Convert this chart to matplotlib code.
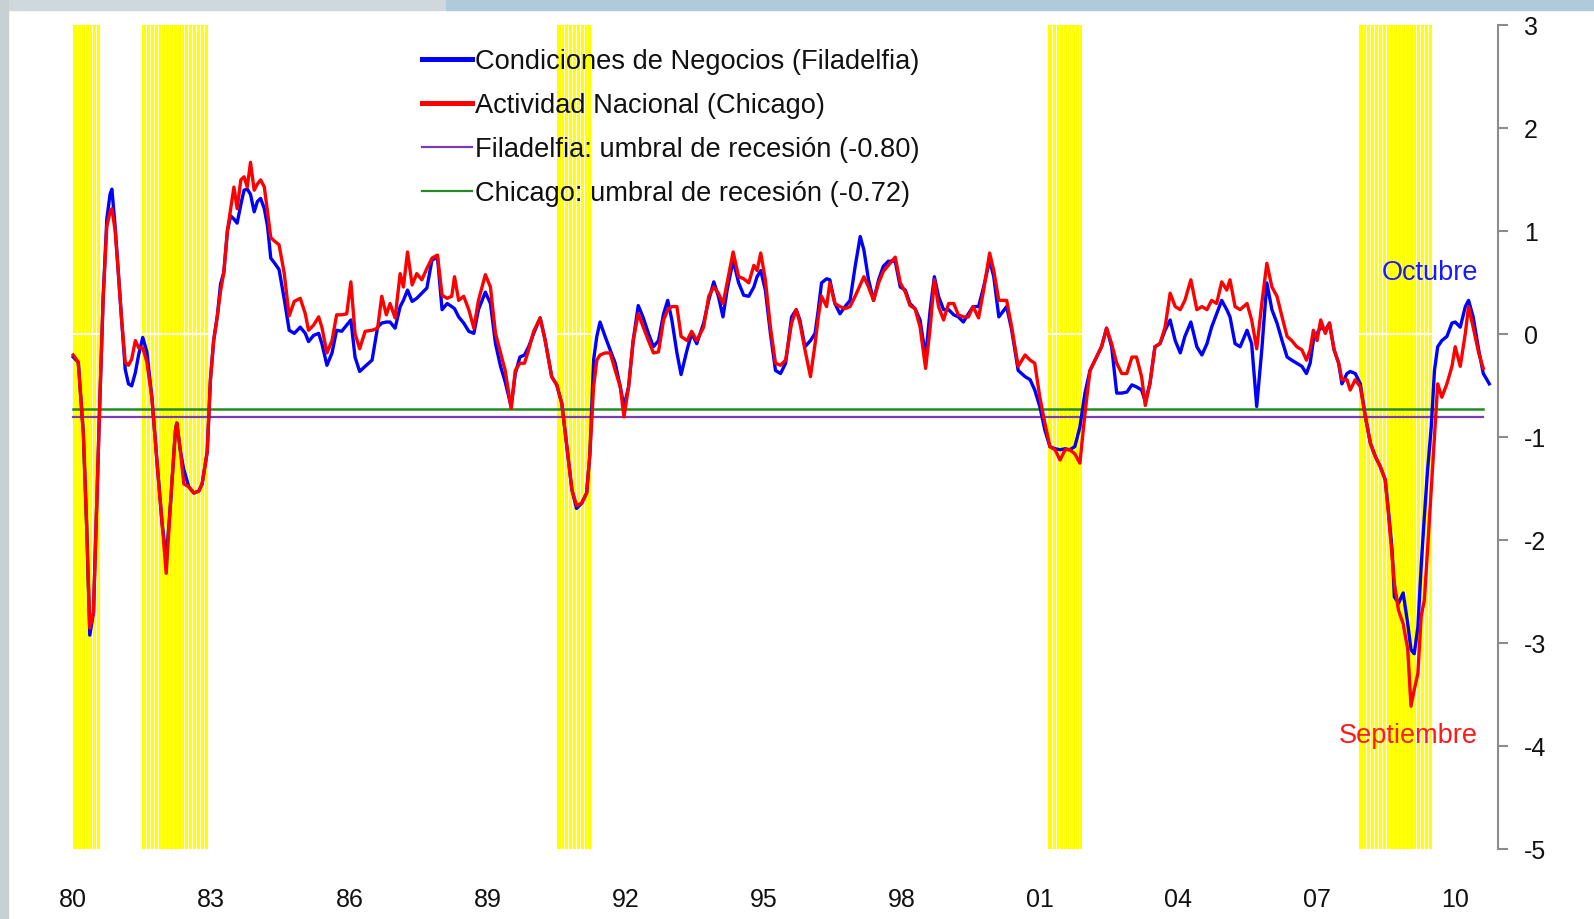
import matplotlib
matplotlib.use('Agg')
import matplotlib.pyplot as plt
import numpy as np
from matplotlib.patches import Rectangle

plt.rcParams['font.family'] = ['Liberation Sans', 'DejaVu Sans']
plt.rcParams['axes.unicode_minus'] = False

# ---------------- data ----------------
t = [1980.00, 1980.11, 1980.22, 1980.29, 1980.36, 1980.44, 1980.51, 1980.58, 1980.65, 1980.73,
     1980.80, 1980.84, 1980.91, 1980.98, 1981.05, 1981.13, 1981.20, 1981.27, 1981.35, 1981.42,
     1981.51, 1981.60, 1981.71, 1981.82, 1981.93, 1982.02, 1982.11, 1982.22, 1982.25, 1982.33,
     1982.40, 1982.51, 1982.62, 1982.73, 1982.80, 1982.91, 1982.98, 1983.05, 1983.13, 1983.20,
     1983.27, 1983.35, 1983.42, 1983.49, 1983.56, 1983.64, 1983.71, 1983.78, 1983.85, 1983.93,
     1984.00, 1984.07, 1984.15, 1984.22, 1984.29, 1984.36, 1984.47, 1984.58, 1984.69, 1984.80,
     1984.93, 1985.04, 1985.11, 1985.22, 1985.33, 1985.40, 1985.51, 1985.62, 1985.72, 1985.83,
     1985.94, 1986.03, 1986.12, 1986.22, 1986.34, 1986.49, 1986.61, 1986.70, 1986.80, 1986.88,
     1986.99, 1987.10, 1987.17, 1987.26, 1987.36, 1987.46, 1987.57, 1987.68, 1987.79, 1987.91,
     1988.01, 1988.12, 1988.22, 1988.28, 1988.37, 1988.48, 1988.59, 1988.70, 1988.80, 1988.95,
     1989.06, 1989.17, 1989.28, 1989.38, 1989.51, 1989.60, 1989.70, 1989.80, 1989.89, 1990.00,
     1990.14, 1990.25, 1990.39, 1990.50, 1990.61, 1990.72, 1990.83, 1990.93, 1991.04, 1991.15,
     1991.22, 1991.30, 1991.37, 1991.44, 1991.55, 1991.66, 1991.77, 1991.88, 1991.96, 1992.06,
     1992.16, 1992.27, 1992.38, 1992.49, 1992.60, 1992.71, 1992.82, 1992.91, 1993.00, 1993.11,
     1993.20, 1993.33, 1993.43, 1993.54, 1993.69, 1993.80, 1993.91, 1994.01, 1994.11, 1994.20,
     1994.33, 1994.45, 1994.56, 1994.67, 1994.78, 1994.85, 1994.93, 1995.03, 1995.14, 1995.25,
     1995.36, 1995.47, 1995.60, 1995.70, 1995.78, 1995.89, 1996.01, 1996.11, 1996.18, 1996.25,
     1996.36, 1996.43, 1996.54, 1996.65, 1996.76, 1996.87, 1996.98, 1997.09, 1997.17, 1997.27,
     1997.38, 1997.49, 1997.59, 1997.70, 1997.85, 1997.96, 1998.07, 1998.17, 1998.28, 1998.39,
     1998.51, 1998.61, 1998.70, 1998.79, 1998.90, 1999.01, 1999.12, 1999.22, 1999.33, 1999.44,
     1999.54, 1999.66, 1999.77, 1999.90, 1999.99, 2000.10, 2000.27, 2000.38, 2000.52, 2000.67,
     2000.78, 2000.88, 2000.99, 2001.10, 2001.21, 2001.32, 2001.43, 2001.54, 2001.64, 2001.75,
     2001.86, 2001.97, 2002.08, 2002.22, 2002.33, 2002.44, 2002.55, 2002.66, 2002.77, 2002.88,
     2002.99, 2003.09, 2003.20, 2003.28, 2003.38, 2003.49, 2003.60, 2003.71, 2003.82, 2003.93,
     2004.04, 2004.14, 2004.27, 2004.40, 2004.51, 2004.62, 2004.72, 2004.83, 2004.94, 2005.05,
     2005.12, 2005.23, 2005.34, 2005.49, 2005.59, 2005.70, 2005.81, 2005.92, 2006.03, 2006.14,
     2006.25, 2006.36, 2006.46, 2006.57, 2006.68, 2006.78, 2006.86, 2006.93, 2007.01, 2007.09,
     2007.19, 2007.28, 2007.38, 2007.48, 2007.55, 2007.66, 2007.73, 2007.84, 2007.95, 2008.06,
     2008.17, 2008.28, 2008.38, 2008.49, 2008.56, 2008.64, 2008.69, 2008.78, 2008.88, 2008.98,
     2009.05, 2009.12, 2009.20, 2009.27, 2009.34, 2009.41, 2009.49, 2009.56, 2009.63, 2009.72,
     2009.83, 2009.94, 2010.01, 2010.12, 2010.23, 2010.30, 2010.40, 2010.52, 2010.62, 2010.70,
     2010.75]

filadelfia = [-0.22, -0.27, -0.96, -1.83, -2.92, -2.70, -1.66, -0.62, 0.35, 1.12,
              1.36, 1.41, 1.05, 0.60, 0.15, -0.34, -0.48, -0.50, -0.37, -0.20,
              -0.03, -0.17, -0.62, -1.24, -1.83, -2.18, -1.66, -0.93, -0.86, -1.14,
              -1.31, -1.48, -1.54, -1.52, -1.45, -1.14, -0.44, -0.06, 0.18, 0.49,
              0.60, 1.01, 1.15, 1.12, 1.08, 1.26, 1.40, 1.41, 1.36, 1.19,
              1.29, 1.32, 1.22, 1.05, 0.74, 0.70, 0.63, 0.35, 0.04, 0.01,
              0.07, 0.01, -0.07, -0.01, 0.01, -0.09, -0.30, -0.18, 0.04, 0.03,
              0.09, 0.14, -0.22, -0.36, -0.31, -0.25, 0.07, 0.11, 0.12, 0.12,
              0.06, 0.27, 0.33, 0.43, 0.32, 0.35, 0.40, 0.45, 0.72, 0.75,
              0.24, 0.30, 0.27, 0.25, 0.17, 0.11, 0.03, 0.01, 0.24, 0.41,
              0.30, -0.09, -0.31, -0.46, -0.70, -0.38, -0.22, -0.20, -0.12, 0.01,
              0.16, -0.06, -0.41, -0.49, -0.67, -1.09, -1.51, -1.69, -1.64, -1.54,
              -1.16, -0.25, -0.02, 0.12, -0.02, -0.15, -0.28, -0.51, -0.70, -0.51,
              -0.06, 0.28, 0.16, 0.01, -0.12, -0.06, 0.20, 0.33, 0.14, -0.18,
              -0.39, -0.15, 0.01, -0.09, 0.11, 0.33, 0.51, 0.37, 0.17, 0.43,
              0.72, 0.50, 0.38, 0.37, 0.46, 0.56, 0.62, 0.43, 0.01, -0.35,
              -0.38, -0.28, 0.17, 0.24, 0.14, -0.12, -0.06, 0.01, 0.24, 0.50,
              0.54, 0.53, 0.30, 0.20, 0.27, 0.33, 0.66, 0.95, 0.82, 0.53,
              0.33, 0.53, 0.66, 0.71, 0.71, 0.46, 0.43, 0.30, 0.25, 0.14,
              -0.22, 0.24, 0.56, 0.37, 0.24, 0.24, 0.19, 0.17, 0.12, 0.20,
              0.27, 0.27, 0.46, 0.72, 0.56, 0.17, 0.27, 0.04, -0.35, -0.41,
              -0.44, -0.54, -0.70, -0.93, -1.09, -1.11, -1.12, -1.11, -1.12, -1.09,
              -0.90, -0.57, -0.35, -0.22, -0.12, 0.06, -0.12, -0.57, -0.57, -0.56,
              -0.49, -0.51, -0.54, -0.65, -0.48, -0.12, -0.09, 0.04, 0.14, -0.06,
              -0.18, -0.02, 0.12, -0.12, -0.20, -0.09, 0.07, 0.20, 0.33, 0.24,
              0.17, -0.09, -0.12, 0.04, -0.09, -0.70, -0.15, 0.50, 0.24, 0.11,
              -0.06, -0.22, -0.25, -0.28, -0.31, -0.38, -0.28, -0.06, 0.01, 0.07,
              0.04, 0.11, -0.15, -0.28, -0.48, -0.38, -0.36, -0.38, -0.48, -0.80,
              -1.06, -1.19, -1.28, -1.41, -1.71, -2.09, -2.55, -2.61, -2.51, -2.81,
              -3.06, -3.10, -2.84, -2.26, -1.77, -1.32, -0.90, -0.35, -0.12, -0.06,
              -0.02, 0.11, 0.12, 0.07, 0.27, 0.33, 0.17, -0.15, -0.38, -0.44,
              -0.48]

chicago = [-0.20, -0.27, -0.96, -1.83, -2.85, -2.70, -1.66, -0.62, 0.35, 1.05,
           1.19, 1.22, 1.01, 0.60, 0.15, -0.27, -0.30, -0.24, -0.06, -0.13,
           -0.13, -0.27, -0.62, -1.24, -1.83, -2.32, -1.66, -0.93, -0.86, -1.14,
           -1.45, -1.48, -1.54, -1.52, -1.45, -1.14, -0.44, -0.06, 0.18, 0.42,
           0.60, 1.01, 1.22, 1.43, 1.22, 1.50, 1.53, 1.43, 1.67, 1.40,
           1.46, 1.50, 1.43, 1.19, 0.94, 0.91, 0.87, 0.60, 0.18, 0.32,
           0.35, 0.20, 0.04, 0.09, 0.17, 0.07, -0.18, -0.06, 0.19, 0.19,
           0.20, 0.51, 0.01, -0.14, 0.03, 0.04, 0.06, 0.37, 0.19, 0.30,
           0.16, 0.59, 0.46, 0.80, 0.48, 0.59, 0.53, 0.64, 0.74, 0.77,
           0.38, 0.35, 0.37, 0.56, 0.33, 0.37, 0.24, 0.06, 0.33, 0.58,
           0.46, 0.01, -0.18, -0.35, -0.72, -0.35, -0.28, -0.28, -0.15, 0.03,
           0.16, -0.06, -0.41, -0.49, -0.67, -1.09, -1.51, -1.66, -1.64, -1.54,
           -1.16, -0.51, -0.25, -0.20, -0.18, -0.18, -0.35, -0.51, -0.80, -0.51,
           -0.06, 0.20, 0.07, -0.06, -0.18, -0.17, 0.14, 0.24, 0.27, 0.27,
           -0.02, -0.06, 0.03, -0.06, 0.07, 0.37, 0.46, 0.40, 0.30, 0.50,
           0.80, 0.56, 0.54, 0.50, 0.67, 0.62, 0.79, 0.53, 0.07, -0.28,
           -0.30, -0.25, 0.11, 0.24, 0.11, -0.15, -0.41, -0.09, 0.17, 0.37,
           0.27, 0.50, 0.30, 0.27, 0.25, 0.27, 0.37, 0.48, 0.56, 0.46,
           0.33, 0.50, 0.61, 0.67, 0.75, 0.50, 0.41, 0.28, 0.25, 0.07,
           -0.33, 0.07, 0.53, 0.27, 0.14, 0.30, 0.30, 0.19, 0.17, 0.17,
           0.27, 0.16, 0.43, 0.79, 0.62, 0.33, 0.33, 0.07, -0.31, -0.20,
           -0.25, -0.28, -0.61, -0.86, -1.09, -1.12, -1.22, -1.12, -1.12, -1.16,
           -1.25, -0.77, -0.35, -0.22, -0.12, 0.06, -0.09, -0.28, -0.38, -0.38,
           -0.22, -0.22, -0.41, -0.69, -0.48, -0.12, -0.09, 0.07, 0.40, 0.27,
           0.24, 0.33, 0.53, 0.24, 0.27, 0.24, 0.33, 0.30, 0.51, 0.43,
           0.53, 0.27, 0.24, 0.30, 0.14, -0.14, 0.30, 0.69, 0.46, 0.37,
           0.17, -0.02, -0.06, -0.12, -0.15, -0.25, -0.15, 0.04, -0.06, 0.14,
           0.01, 0.11, -0.15, -0.28, -0.44, -0.44, -0.54, -0.44, -0.51, -0.80,
           -1.06, -1.19, -1.28, -1.41, -1.74, -2.16, -2.42, -2.68, -2.81, -3.06,
           -3.61, -3.45, -3.29, -2.74, -2.58, -2.09, -1.51, -0.99, -0.48, -0.61,
           -0.48, -0.31, -0.12, -0.31, 0.01, 0.27, 0.07, -0.18, -0.33, np.nan,
           np.nan]

# NBER recessions (first and last month, as decimal years)
rec_start = [1980.0, 1981.5, 1990.5, 2001.1667, 2007.9167]
rec_end = [1980.5833, 1982.9167, 1991.25, 2001.9167, 2009.5]

umbral_filadelfia = -0.80
umbral_chicago = -0.72

x_ticks = [1980, 1983, 1986, 1989, 1992, 1995, 1998, 2001, 2004, 2007, 2010]
x_labels = ['80', '83', '86', '89', '92', '95', '98', '01', '04', '07', '10']
y_ticks = [-5, -4, -3, -2, -1, 0, 1, 2, 3]

lbl_fil = 'Condiciones de Negocios (Filadelfia)'
lbl_chi = 'Actividad Nacional (Chicago)'
lbl_uf = 'Filadelfia: umbral de recesión (-0.80)'
lbl_uc = 'Chicago: umbral de recesión (-0.72)'

# ---------------- figure ----------------
fig = plt.figure(figsize=(15.94, 9.19), dpi=100)
fig.patch.set_facecolor('white')

# screenshot-like frame remnants (top band and left edge)
fig.patches.append(Rectangle((0, 0.989), 0.28, 0.011, transform=fig.transFigure,
                             color='#cfd8dd', zorder=0))
fig.patches.append(Rectangle((0.28, 0.989), 0.72, 0.011, transform=fig.transFigure,
                             color='#aecadb', zorder=0))
fig.patches.append(Rectangle((0, 0), 0.005, 1, transform=fig.transFigure,
                             color='#c9d0d4', zorder=0))

ax = fig.add_axes([0.0387, 0.0757, 0.9008, 0.8967])
ax.set_facecolor('none')

# recession shading: solid yellow span with thin white month separators
for s, e in zip(rec_start, rec_end):
    ax.bar(s, 8, width=e - s, bottom=-5, align='edge', color='#ffff00',
           linewidth=0, zorder=1)
    seps = np.arange(s + 1.0 / 12, e - 1e-6, 1.0 / 12)
    ax.vlines(seps, -5, 3, colors='white', linewidth=0.7, zorder=1.5)
ax.axhline(0, color='white', lw=1.4, zorder=2)

t_arr = np.array(t)
chi_arr = np.array(chicago)
t_end = t_arr[~np.isnan(chi_arr)][-1]

l1, = ax.plot(t, filadelfia, color='#0000ff', lw=2.4, zorder=5, label=lbl_fil)
l2, = ax.plot(t, chicago, color='#ff0000', lw=2.4, zorder=6, label=lbl_chi)
l3, = ax.plot([t[0], t_end], [umbral_filadelfia] * 2, color='#7a3cb0', lw=1.6,
              zorder=3, label=lbl_uf)
l4, = ax.plot([t[0], t_end], [umbral_chicago] * 2, color='#228b22', lw=1.8,
              zorder=3, label=lbl_uc)

leg = ax.legend(handles=[l1, l2, l3, l4], loc='upper left',
                bbox_to_anchor=(415 / 1568, 1 - 48 / 904),
                bbox_transform=fig.transFigure,
                frameon=False, fontsize=19.6, handlelength=1.85,
                handletextpad=0.1, labelspacing=0.66, borderaxespad=0,
                borderpad=0)
leg.set_zorder(10)
for line in leg.get_lines()[:2]:
    line.set_linewidth(3.6)
for line in leg.get_lines()[2:]:
    line.set_linewidth(1.6)
for txt in leg.get_texts():
    txt.set_color('#111111')

ax.text(2010.5, 0.60, 'Octubre', color='#1a1aff', fontsize=19.5,
        ha='right', va='center', zorder=11)
ax.text(2010.5, -3.90, 'Septiembre', color='#ff1a1a', fontsize=19.5,
        ha='right', va='center', zorder=11)

ax.set_xlim(1979.75, 2010.93)
ax.set_ylim(-5, 3)

ax.set_xticks(x_ticks)
ax.set_xticklabels(x_labels)
ax.set_yticks(y_ticks)
ax.yaxis.tick_right()

for side in ['top', 'left', 'bottom']:
    ax.spines[side].set_visible(False)
ax.spines['right'].set_color('#8c8c8c')
ax.spines['right'].set_linewidth(1.5)

ax.tick_params(axis='x', length=0, pad=28, labelsize=18, labelcolor='#111111')
ax.tick_params(axis='y', direction='out', length=7, width=1.5, color='#8c8c8c',
               pad=12, labelsize=18, labelcolor='#111111')

fig.savefig('out.png', dpi=100)
